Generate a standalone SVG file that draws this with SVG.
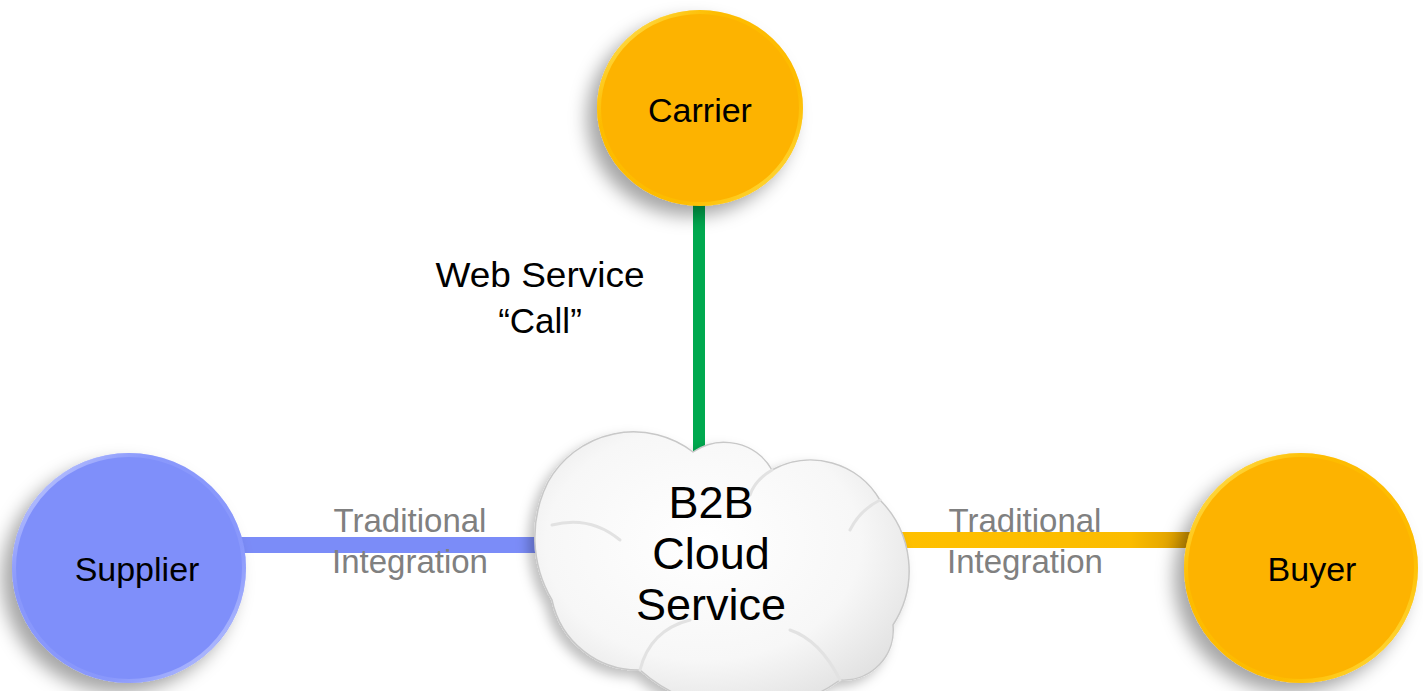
<svg xmlns="http://www.w3.org/2000/svg" width="1423" height="691" viewBox="0 0 1423 691">
<style>
.lbl{font-family:"Liberation Sans",Arial,sans-serif;fill:#000;text-anchor:middle}
.gray{font-family:"Liberation Sans",Arial,sans-serif;fill:#808080;text-anchor:middle;font-size:33px}
.node{font-size:34px}
</style>
<defs>
<filter id="sh" x="-30%" y="-30%" width="160%" height="160%">
<feDropShadow dx="-10" dy="10" stdDeviation="9" flood-color="#000" flood-opacity="0.35"/>
</filter>
<filter id="shc" x="-20%" y="-20%" width="140%" height="140%">
<feDropShadow dx="-6" dy="6" stdDeviation="6" flood-color="#000" flood-opacity="0.25"/>
</filter>
<linearGradient id="rimO" x1="0" y1="0" x2="1" y2="1">
<stop offset="0" stop-color="#fff7a0"/>
<stop offset="0.3" stop-color="#ffd000" stop-opacity="0.3"/>
<stop offset="0.7" stop-color="#ffd000" stop-opacity="0.3"/>
<stop offset="1" stop-color="#fff080"/>
</linearGradient>
<linearGradient id="rimB" x1="0" y1="0" x2="1" y2="1">
<stop offset="0" stop-color="#e6eaff"/>
<stop offset="0.3" stop-color="#a0acff" stop-opacity="0.3"/>
<stop offset="0.7" stop-color="#a0acff" stop-opacity="0.3"/>
<stop offset="1" stop-color="#d8defe"/>
</linearGradient>
<radialGradient id="cloudG" cx="0.45" cy="0.4" r="0.7">
<stop offset="0" stop-color="#ffffff"/>
<stop offset="0.6" stop-color="#f7f7f7"/>
<stop offset="1" stop-color="#dcdcdc"/>
</radialGradient>
<linearGradient id="orLine" x1="0" y1="0" x2="1" y2="0">
<stop offset="0" stop-color="#ffc000"/>
<stop offset="0.8" stop-color="#fbbc00"/>
<stop offset="1" stop-color="#d89a00"/>
</linearGradient>
</defs>
<rect width="1423" height="691" fill="#ffffff"/>
<g id="connectors">
<rect x="693" y="200" width="12" height="252" fill="#00a94f"/>
<rect x="235" y="537" width="318" height="16" fill="#7b8cf8"/>
<rect x="890" y="532" width="300" height="16" fill="url(#orLine)"/>
</g>
<g id="labels">
<text class="lbl" x="540" y="287" font-size="35" textLength="209" lengthAdjust="spacingAndGlyphs">Web Service</text>
<text class="lbl" x="540" y="333" font-size="35">“Call”</text>
<text class="gray" x="410" y="532">Traditional</text>
<text class="gray" x="410" y="573">Integration</text>
<text class="gray" x="1025" y="532">Traditional</text>
<text class="gray" x="1025" y="573">Integration</text>
</g>
<g id="carrier">
<ellipse cx="700" cy="108" rx="103" ry="98" fill="#fdb300" filter="url(#sh)"/>
<ellipse cx="700" cy="108" rx="101" ry="96" fill="none" stroke="url(#rimO)" stroke-width="4"/>
<text class="lbl node" x="700" y="122">Carrier</text>
</g>
<g id="supplier">
<ellipse cx="129" cy="568" rx="117" ry="115" fill="#7f8ffa" filter="url(#sh)"/>
<ellipse cx="129" cy="568" rx="115" ry="113" fill="none" stroke="url(#rimB)" stroke-width="4"/>
<text class="lbl node" x="137" y="581">Supplier</text>
</g>
<g id="buyer">
<ellipse cx="1301" cy="568" rx="117" ry="115" fill="#fdb300" filter="url(#sh)"/>
<ellipse cx="1301" cy="568" rx="115" ry="113" fill="none" stroke="url(#rimO)" stroke-width="4"/>
<text class="lbl node" x="1312" y="581">Buyer</text>
</g>
<g id="cloud">
<path d="M548,482 A98,98 0 0 1 693,452 A55,55 0 0 1 772,470 A80,80 0 0 1 880,500 A100,100 0 0 1 893,625 A50,50 0 0 1 840,680 A160,160 0 0 1 640,670 A88,88 0 0 1 552,600 A123,123 0 0 1 548,482 Z" fill="url(#cloudG)" stroke="#c8c8c8" stroke-width="1.5" filter="url(#shc)"/>
<g fill="none" stroke="#e2e2e2" stroke-width="3" stroke-linecap="round">
<path d="M552,525 Q590,515 620,540"/>
<path d="M640,670 Q650,630 690,620"/>
<path d="M840,680 Q820,640 790,630"/>
<path d="M880,500 Q860,510 850,530"/>
<path d="M772,470 Q755,480 750,495"/>
</g>
<text class="lbl" x="711" y="518" font-size="45">B2B</text>
<text class="lbl" x="711" y="569" font-size="45">Cloud</text>
<text class="lbl" x="711" y="620" font-size="45">Service</text>
</g>
</svg>
